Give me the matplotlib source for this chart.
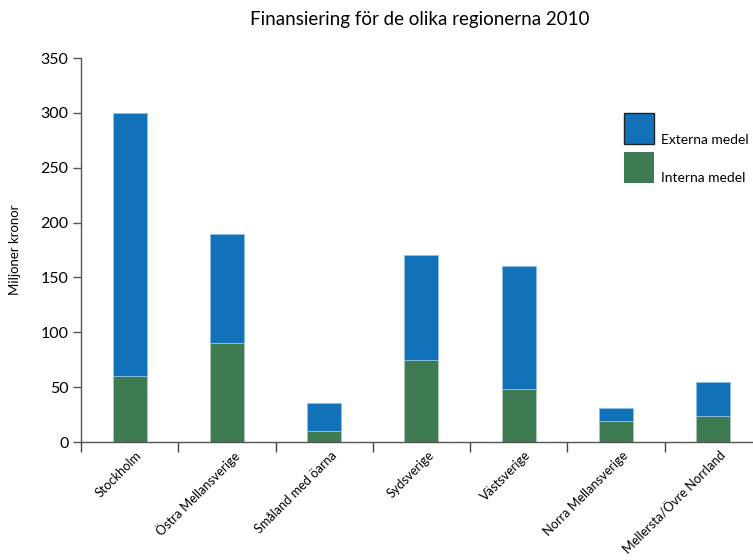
import numpy as np
import matplotlib.pyplot as plt
from matplotlib.patches import Rectangle
import matplotlib.transforms as mtransforms

regions = ["Stockholm", "Östra Mellansverige", "Småland med öarna", "Sydsverige",
           "Västsverige", "Norra Mellansverige", "Mellersta/Övre Norrland"]
interna = [60, 90, 10, 75, 48, 19, 24]
totalt = [300, 190, 36, 170, 160, 31, 55]
externa = [t - i for t, i in zip(totalt, interna)]

blue = "#1172ba"
green = "#3e7b53"

plt.rcParams['font.family'] = ['Lato', 'DejaVu Sans']

fig = plt.figure(figsize=(7.53, 5.6), dpi=100)
ax = fig.add_axes([0.1076, 0.2107, 1 - 0.1076, 0.8964 - 0.2107])

x = np.arange(len(regions))
w = 0.35
ax.bar(x, interna, w, color=green, edgecolor="#a9c7b2", linewidth=0.6)
ax.bar(x, externa, w, bottom=interna, color=blue, edgecolor="#8fc0e6", linewidth=0.6)

ax.set_xlim(-0.5, 6.41)
ax.set_ylim(0, 350)
ax.set_yticks(range(0, 351, 50))
ax.tick_params(axis='y', labelsize=11.5, length=6, width=1, color="#555555", pad=3)
ax.set_xticks(x)
ax.set_xticklabels(regions, rotation=45, ha='right', rotation_mode='anchor', fontsize=9.2)
ax.tick_params(axis='x', which='major', length=0, pad=5)
ax.set_xticks(np.arange(-0.5, 6.5, 1), minor=True)
ax.tick_params(axis='x', which='minor', length=7, width=1, color="#444444")

# nudge the rotated labels a little to the right, like the original
shift = mtransforms.ScaledTranslation(6 / 100, 0, fig.dpi_scale_trans)
for lbl in ax.get_xticklabels():
    lbl.set_transform(lbl.get_transform() + shift)

for s in ["top", "right"]:
    ax.spines[s].set_visible(False)
for s in ["left", "bottom"]:
    ax.spines[s].set_color("#555555")
    ax.spines[s].set_linewidth(1)

ax.set_ylabel("Miljoner kronor", fontsize=9.5, labelpad=14)

fig.text(0.558, 0.965, "Finansiering för de olika regionerna 2010", ha='center', va='center', fontsize=13.5)

# legend
fig.patches.append(Rectangle((624 / 753, 1 - 144 / 560), 30 / 753, 31 / 560, transform=fig.transFigure,
                             facecolor=blue, edgecolor="#222222", linewidth=1))
fig.patches.append(Rectangle((624 / 753, 1 - 183 / 560), 30 / 753, 31 / 560, transform=fig.transFigure,
                             facecolor=green, edgecolor="none"))
fig.text(661 / 753, 1 - 144 / 560, "Externa medel", fontsize=10, va='baseline')
fig.text(661 / 753, 1 - 182 / 560, "Interna medel", fontsize=10, va='baseline')

fig.savefig("out.png", dpi=100)
